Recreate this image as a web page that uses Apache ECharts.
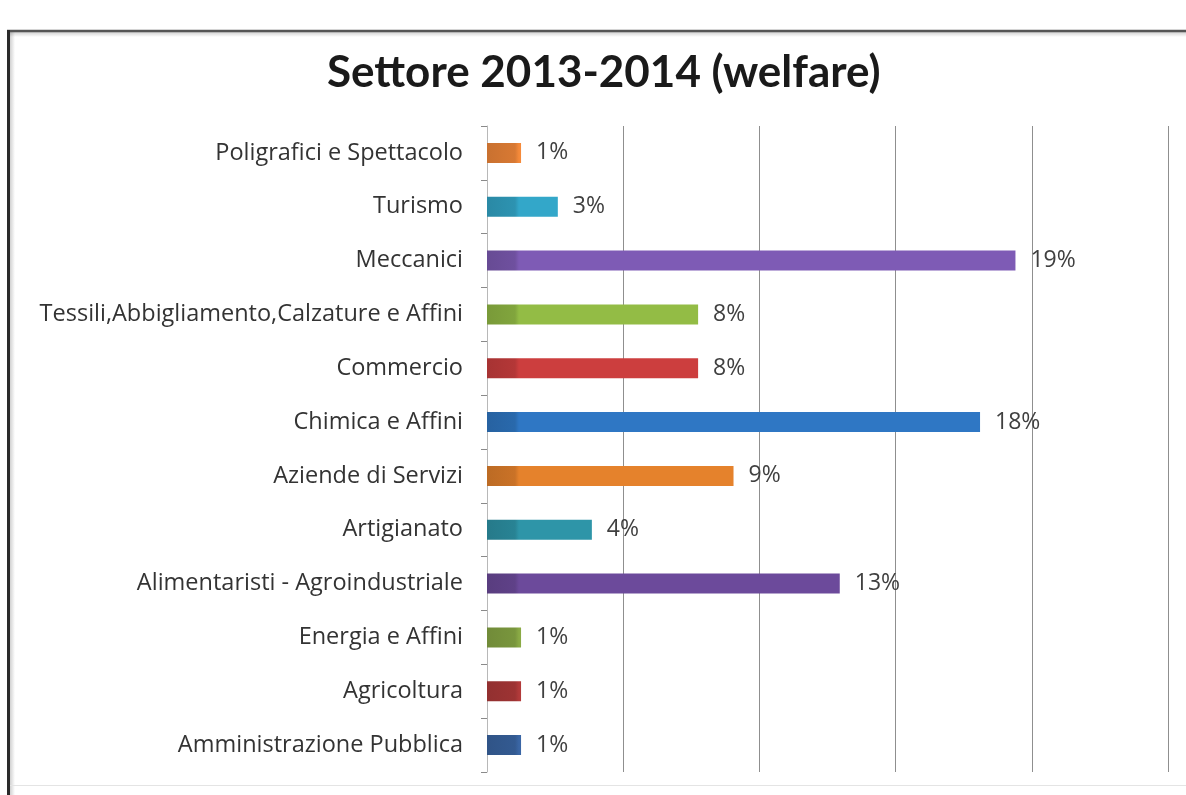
<!DOCTYPE html>
<html>
<head>
<meta charset="utf-8">
<title>Settore 2013-2014 (welfare)</title>
<script src="https://cdn.jsdelivr.net/npm/echarts@6/dist/echarts.min.js"></script>
<style>
  html, body { margin: 0; padding: 0; background: #ffffff; }
  #chart { width: 1186px; height: 795px; }
</style>
</head>
<body>
<div id="chart"></div>
<script>
// Sectors, listed top to bottom
const categories = [
  'Poligrafici e Spettacolo',
  'Turismo',
  'Meccanici',
  'Tessili,Abbigliamento,Calzature e Affini',
  'Commercio',
  'Chimica e Affini',
  'Aziende di Servizi',
  'Artigianato',
  'Alimentaristi - Agroindustriale',
  'Energia e Affini',
  'Agricoltura',
  'Amministrazione Pubblica'
];

// Share of each sector, in percent
const shares = [1.25, 2.6, 19.4, 7.75, 7.75, 18.1, 9.05, 3.85, 12.95, 1.25, 1.25, 1.25];

// Bar colours, one per sector
const barColors = [
  '#f58a3a', '#33a7c9', '#7e5bb5', '#93bc45', '#cc3e3e', '#2f77c4',
  '#e5822c', '#2e95a8', '#6c4a9b', '#8aaa45', '#b23a3a', '#3a66a5'
];

const chartTitle = 'Settore 2013-2014 (welfare)';

function shade(hex, f) {
  const n = parseInt(hex.slice(1), 16);
  const r = Math.round(((n >> 16) & 255) * f);
  const g = Math.round(((n >> 8) & 255) * f);
  const b = Math.round((n & 255) * f);
  return 'rgb(' + r + ',' + g + ',' + b + ')';
}

const chart = echarts.init(document.getElementById('chart'), null, { renderer: 'canvas' });

const GRID_LEFT = 487, GRID_RIGHT = 18, GRID_TOP = 126, GRID_BOTTOM = 23;

const barData = shares.map((v, i) => ({
  value: v,
  itemStyle: {
    color: {
      type: 'linear', global: true,
      x: GRID_LEFT, y: 0, x2: GRID_LEFT + 40, y2: 0,
      colorStops: [
        { offset: 0, color: shade(barColors[i], 0.82) },
        { offset: 0.7, color: shade(barColors[i], 0.88) },
        { offset: 0.8, color: barColors[i] },
        { offset: 1, color: barColors[i] }
      ]
    }
  }
}));

chart.setOption({
  animation: false,
  backgroundColor: '#ffffff',
  title: {
    text: chartTitle,
    left: 322,
    top: 46,
    textStyle: {
      fontFamily: 'Lato',
      fontWeight: 'bold',
      fontSize: 44,
      color: '#1a1a1a'
    }
  },
  grid: { left: GRID_LEFT, right: GRID_RIGHT, top: GRID_TOP, bottom: GRID_BOTTOM, containLabel: false },
  xAxis: {
    type: 'value',
    min: 0,
    max: 25,
    interval: 5,
    axisLine: { show: false },
    axisTick: { show: false },
    axisLabel: { show: false },
    splitLine: { show: true, lineStyle: { color: '#8f8f8f', width: 1 } }
  },
  yAxis: {
    type: 'category',
    inverse: true,
    data: categories,
    axisLine: { show: true, lineStyle: { color: '#b8b8b8', width: 1 } },
    axisTick: { show: true, length: 6, lineStyle: { color: '#8a8a8a' } },
    axisLabel: {
      margin: 24,
      fontFamily: 'Open Sans',
      fontSize: 23.5,
      color: '#333333'
    }
  },
  series: [{
    type: 'bar',
    data: barData,
    barWidth: 20,
    label: {
      show: true,
      position: 'right',
      distance: 15,
      fontFamily: 'Open Sans',
      fontSize: 23,
      color: '#404040',
      formatter: p => Math.round(p.value) + '%'
    }
  }],
  graphic: [
    // soft shadow under the frame edges
    { type: 'rect', silent: true, shape: { x: 10, y: 32, width: 1176, height: 5 },
      style: { fill: { type: 'linear', x: 0, y: 0, x2: 0, y2: 1,
        colorStops: [{ offset: 0, color: 'rgba(0,0,0,0.18)' }, { offset: 1, color: 'rgba(0,0,0,0)' }] } } },
    { type: 'rect', silent: true, shape: { x: 10, y: 32, width: 5, height: 763 },
      style: { fill: { type: 'linear', x: 0, y: 0, x2: 1, y2: 0,
        colorStops: [{ offset: 0, color: 'rgba(0,0,0,0.18)' }, { offset: 1, color: 'rgba(0,0,0,0)' }] } } },
    // frame: top and left edges
    { type: 'line', silent: true, shape: { x1: 7, y1: 31, x2: 1186, y2: 31 },
      style: { stroke: '#555555', lineWidth: 2.5 } },
    { type: 'line', silent: true, shape: { x1: 8.5, y1: 30, x2: 8.5, y2: 795 },
      style: { stroke: '#2a2a2a', lineWidth: 3 } },
    // faint bottom edge
    { type: 'line', silent: true, shape: { x1: 10, y1: 785.5, x2: 1186, y2: 785.5 },
      style: { stroke: '#e4e4e4', lineWidth: 1 } }
  ]
});
</script>
</body>
</html>
